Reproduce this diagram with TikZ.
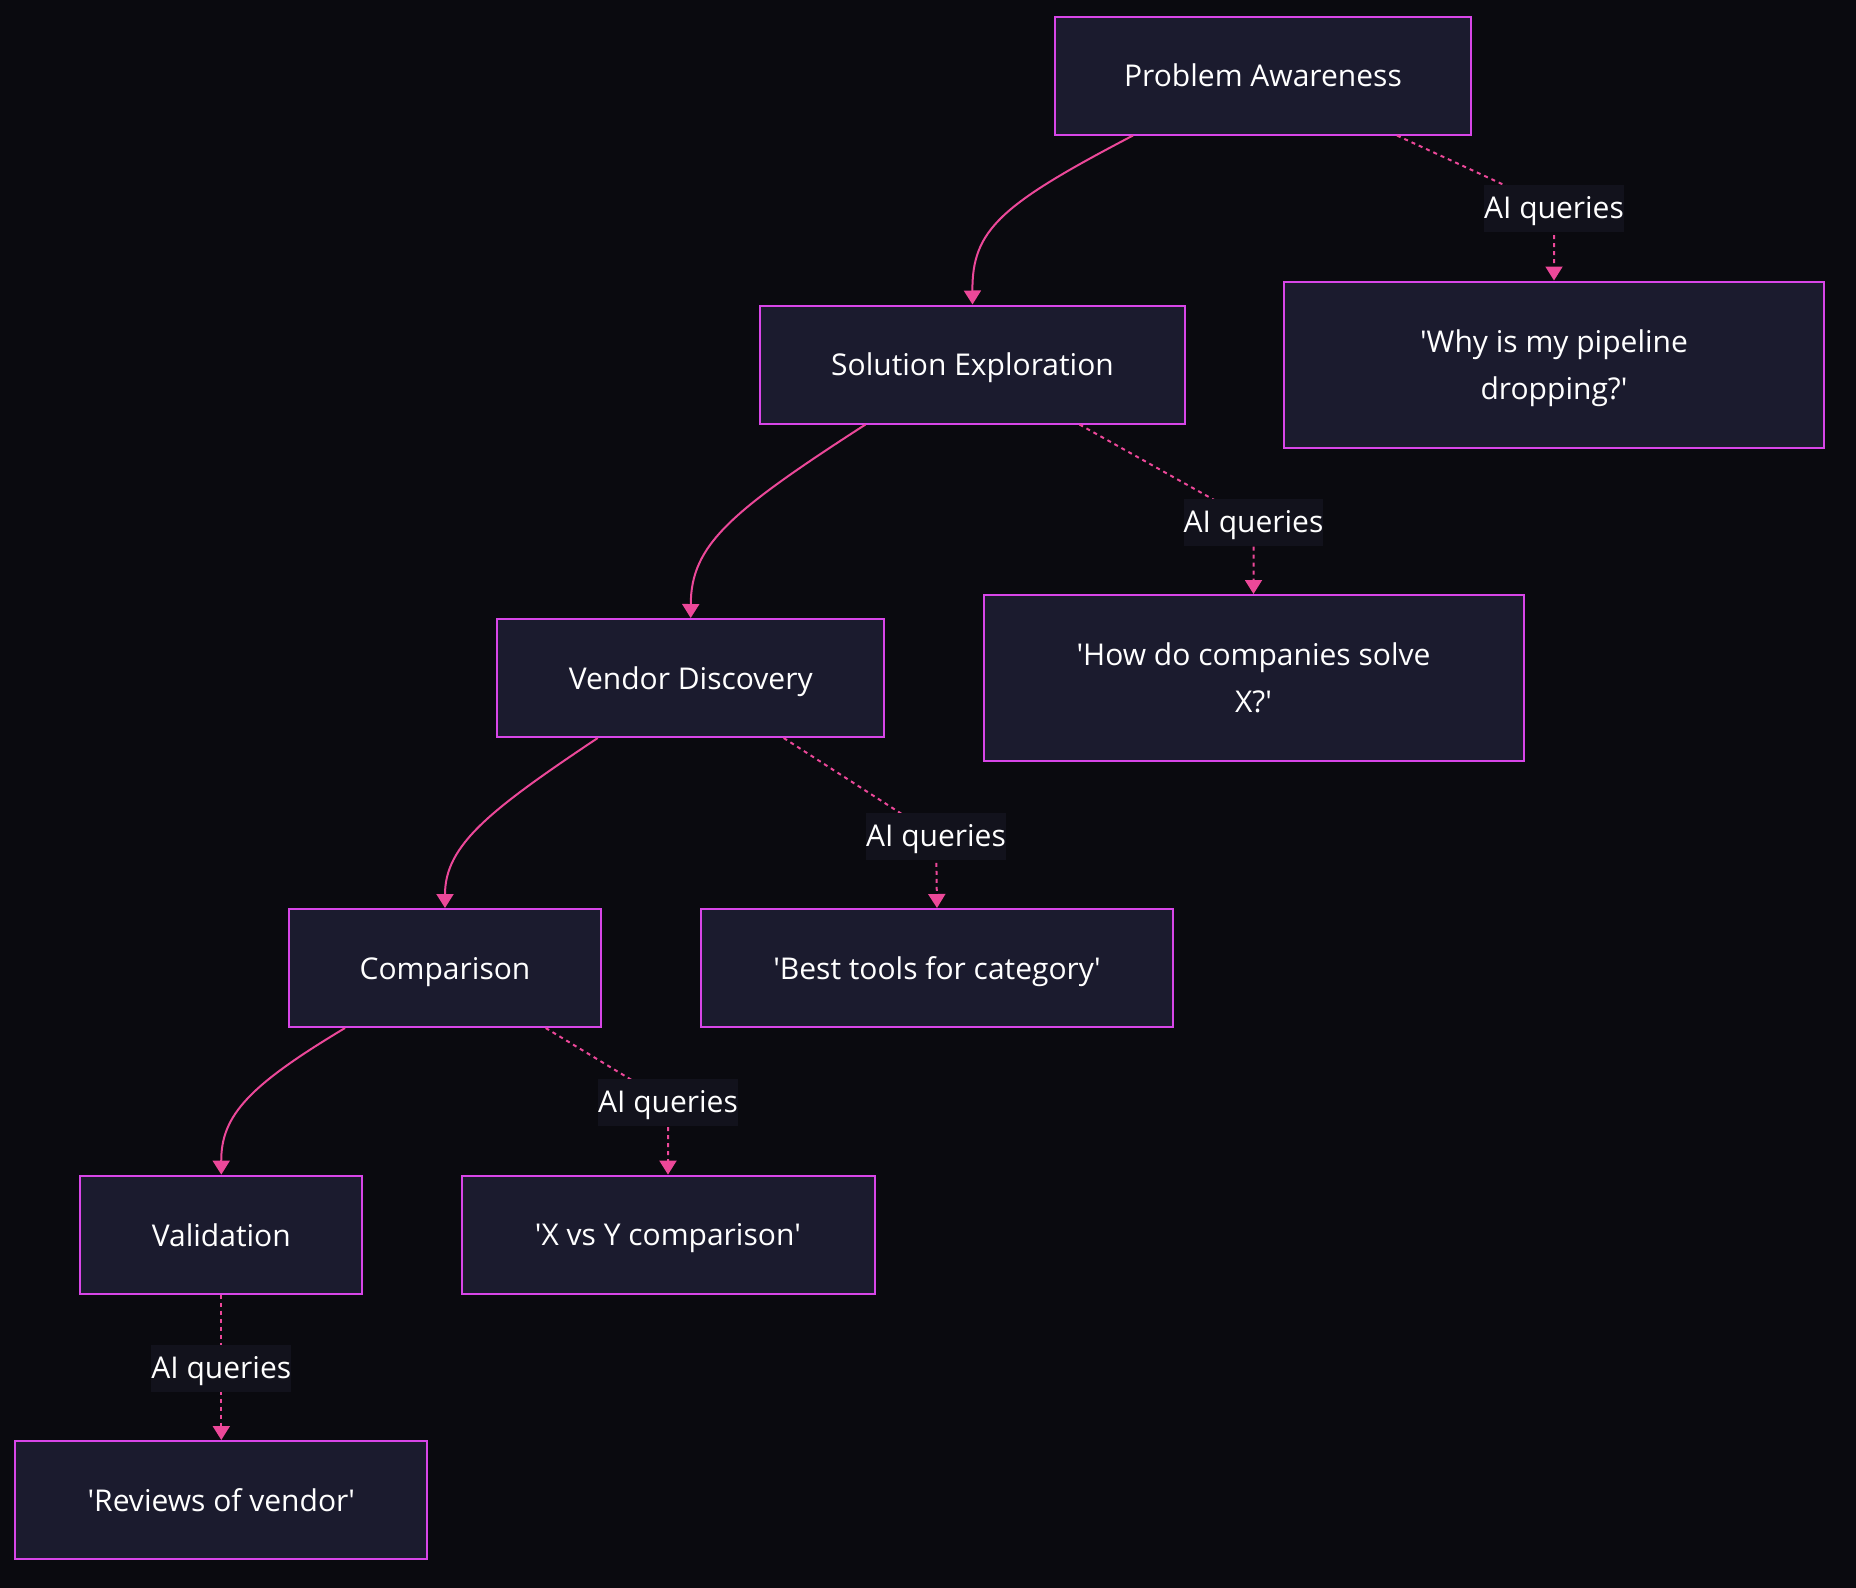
\documentclass[tikz,border=0pt]{standalone}
\usepackage{fontspec}
\setmainfont{Open Sans}
\usetikzlibrary{positioning,arrows.meta,calc}

\definecolor{bgdark}{HTML}{0A0A0F}
\definecolor{boxfill}{HTML}{1B1B2E}
\definecolor{boxline}{HTML}{D846E8}
\definecolor{edgepink}{HTML}{EC4899}
\definecolor{lblfill}{HTML}{12121C}
\newcommand{\sq}{\textquotesingle}

\begin{document}
\begin{tikzpicture}[
  x=1pt, y=1pt,
  every node/.style={font=\fontsize{30}{47}\selectfont, text=white},
  stage/.style={rectangle, draw=boxline, fill=boxfill, line width=2pt,
                minimum height=118pt, align=center, inner sep=0pt, text depth=0pt},
  query/.style={stage, minimum height=166pt},
  arr/.style={-{Triangle[width=17pt,length=14pt]}, edgepink, line width=2pt},
  darr/.style={arr, dash pattern=on 4pt off 4pt},
  qlabel/.style={fill=lblfill, inner xsep=0pt, inner ysep=9.5pt,
                 text height=24pt, text depth=4pt}
]

% Page: dark canvas, sized as the page.
\fill[bgdark] (0,0) rectangle (1856,-1588);
\useasboundingbox (0,0) rectangle (1856,-1588);

% Funnel stages, stepping down to the left.
\node[stage, minimum width=416pt] (PA) at (1263,-75.5)  {Problem Awareness};
\node[stage, minimum width=425pt] (SE) at (972.5,-364.5) {Solution Exploration};
\node[stage, minimum width=387pt] (VD) at (690.7,-678)  {Vendor Discovery};
\node[stage, minimum width=312pt] (CM) at (445,-968)    {Comparison};
\node[stage, minimum width=282pt] (VA) at (221.3,-1234.6) {Validation};

% What gets asked at each stage.
\node[query, minimum width=540pt] (Q1) at (1554,-364.5) {\sq Why is my pipeline\\dropping?\sq};
\node[query, minimum width=540pt] (Q2) at (1253.5,-678) {\sq How do companies solve\\X?\sq};
\node[stage, minimum width=472pt] (Q3) at (937,-968)    {\sq Best tools for category\sq};
\node[stage, minimum width=413pt] (Q4) at (668,-1234.6) {\sq X vs Y comparison\sq};
\node[stage, minimum width=412pt] (Q5) at (221.3,-1500) {\sq Reviews of vendor\sq};

% Stage to next stage.
\draw[arr] ($(PA.south)+(-130,0)$) .. controls (1000,-205) and (972,-230) .. (SE.north);
\draw[arr] ($(SE.south)+(-107,0)$) .. controls (730,-512) and (691,-545) .. (VD.north);
\draw[arr] ($(VD.south)+(-93,0)$)  .. controls (490,-810) and (445,-845) .. (CM.north);
\draw[arr] ($(CM.south)+(-100,0)$) .. controls (250,-1085) and (221,-1115) .. (VA.north);

% Stage to query, through its label.
\coordinate (L1) at (1554,-208);
\coordinate (L2) at (1253.5,-522);
\coordinate (L3) at (936,-836);
\coordinate (L4) at (668,-1102);
\coordinate (L5) at (221.3,-1368);
\draw[darr] ($(PA.south)+(134,0)$)   -- (L1) -- (Q1.north);
\draw[darr] ($(SE.south)+(107,0)$)   -- (L2) -- (Q2.north);
\draw[darr] ($(VD.south)+(93,0)$)    -- (L3) -- (Q3.north);
\draw[darr] ($(CM.south)+(100.7,0)$) -- (L4) -- (Q4.north);
\draw[darr] (VA.south) -- (L5) -- (Q5.north);
\foreach \l in {L1,L2,L3,L4,L5}
  \node[qlabel] at (\l) {AI queries};

\end{tikzpicture}
\end{document}
